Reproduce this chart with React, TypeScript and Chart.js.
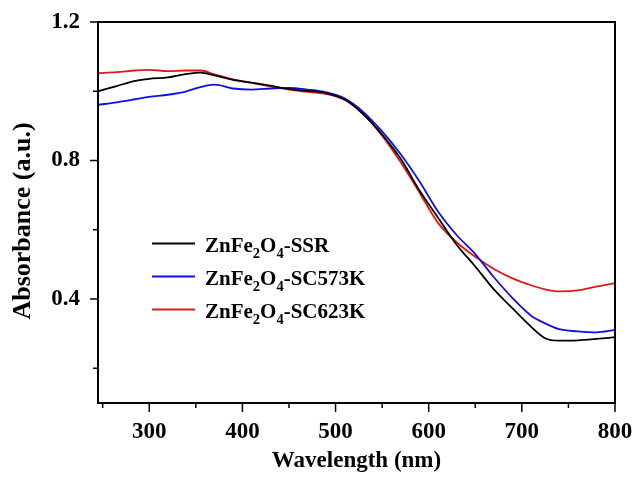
import React, { useEffect, useRef } from "react";
import { Chart, registerables } from "chart.js";

Chart.register(...registerables);

const wavelengths = [245, 265, 285, 300, 320, 340, 355, 370, 390, 410, 430, 450, 470, 490, 510, 530, 550, 570, 590, 610, 630, 650, 670, 690, 710, 725, 740, 760, 780, 800];
const ssr = [1.000, 1.015, 1.030, 1.036, 1.040, 1.050, 1.054, 1.046, 1.033, 1.025, 1.016, 1.007, 1.001, 0.995, 0.976, 0.933, 0.875, 0.805, 0.714, 0.635, 0.557, 0.494, 0.428, 0.373, 0.320, 0.287, 0.280, 0.281, 0.285, 0.290];
const sc573k = [0.961, 0.968, 0.977, 0.984, 0.990, 1.000, 1.012, 1.019, 1.008, 1.005, 1.008, 1.010, 1.005, 0.997, 0.979, 0.940, 0.884, 0.818, 0.740, 0.653, 0.585, 0.530, 0.463, 0.403, 0.352, 0.330, 0.313, 0.307, 0.304, 0.311];
const sc623k = [1.052, 1.055, 1.060, 1.062, 1.058, 1.060, 1.060, 1.049, 1.034, 1.024, 1.014, 1.005, 0.998, 0.992, 0.975, 0.935, 0.872, 0.795, 0.708, 0.620, 0.564, 0.522, 0.487, 0.460, 0.440, 0.428, 0.422, 0.425, 0.436, 0.446];

const seriesNames = ["ZnFe2O4-SSR", "ZnFe2O4-SC573K", "ZnFe2O4-SC623K"];
const seriesColors = ["#000000", "#1010e6", "#e01818"];

const xTicks = [250, 300, 350, 400, 450, 500, 550, 600, 650, 700, 750, 800];
const xLabeled = [300, 400, 500, 600, 700, 800];
const yTicks = [0.2, 0.4, 0.6, 0.8, 1.0, 1.2];
const yLabeled = [0.4, 0.8, 1.2];

const xTitle = "Wavelength (nm)";
const yTitle = "Absorbance (a.u.)";

const FONT = '"Liberation Serif", "Times New Roman", serif';

const isIn = (arr: number[], v: number) => arr.some((a) => Math.abs(a - v) < 1e-6);

function drawFormulaLabel(ctx: CanvasRenderingContext2D, text: string, x: number, baseline: number) {
  const dash = text.indexOf("-");
  const formula = dash >= 0 ? text.slice(0, dash) : text;
  const rest = dash >= 0 ? text.slice(dash) : "";
  let cx = x;
  const parts = formula.match(/[0-9]+|[^0-9]+/g) || [];
  ctx.textAlign = "left";
  ctx.textBaseline = "alphabetic";
  for (const p of parts) {
    const sub = /^[0-9]+$/.test(p);
    ctx.font = sub ? `bold 14.5px ${FONT}` : `bold 21px ${FONT}`;
    ctx.fillText(p, cx, baseline + (sub ? 6 : 0));
    cx += ctx.measureText(p).width;
  }
  ctx.font = `bold 21px ${FONT}`;
  ctx.fillText(rest, cx, baseline);
}

const decorPlugin = {
  id: "decor",
  afterDraw(chart: any) {
    const { ctx, chartArea: a, scales } = chart;
    const x = scales.x;
    const y = scales.y;
    ctx.save();
    ctx.strokeStyle = "#000";
    ctx.lineWidth = 2;
    ctx.strokeRect(a.left, a.top, a.right - a.left, a.bottom - a.top);

    ctx.lineWidth = 1.5;
    ctx.beginPath();
    xTicks.forEach((v) => {
      const p = x.getPixelForValue(v);
      const len = isIn(xLabeled, v) ? 9 : 5;
      ctx.moveTo(p, a.bottom);
      ctx.lineTo(p, a.bottom + len);
    });
    yTicks.forEach((v) => {
      const p = y.getPixelForValue(v);
      const len = isIn(yLabeled, v) ? 8 : 5;
      ctx.moveTo(a.left, p);
      ctx.lineTo(a.left - len, p);
    });
    ctx.stroke();

    // axis titles
    ctx.fillStyle = "#000";
    ctx.textAlign = "center";
    ctx.textBaseline = "middle";
    ctx.font = `bold 23px ${FONT}`;
    ctx.fillText(xTitle, (a.left + a.right) / 2, 461);
    ctx.save();
    ctx.translate(23.5, 221);
    ctx.rotate(-Math.PI / 2);
    ctx.font = `bold 26px ${FONT}`;
    ctx.fillText(yTitle, 0, 0);
    ctx.restore();

    // legend
    const rows = [243.5, 276.5, 309.5];
    chart.data.datasets.forEach((ds: any, i: number) => {
      const ry = rows[i];
      ctx.strokeStyle = ds.borderColor;
      ctx.lineWidth = 2;
      ctx.beginPath();
      ctx.moveTo(152, ry);
      ctx.lineTo(195, ry);
      ctx.stroke();
      ctx.fillStyle = "#000";
      drawFormulaLabel(ctx, ds.label, 205, ry + 8);
    });
    ctx.restore();
  },
};

export default function App() {
  const ref = useRef<HTMLCanvasElement | null>(null);

  useEffect(() => {
    if (!ref.current) return;
    const series = [ssr, sc573k, sc623k];
    const chart = new Chart(ref.current, {
      type: "line",
      data: {
        datasets: series.map((vals, i) => ({
          label: seriesNames[i],
          data: wavelengths.map((w, j) => ({ x: w, y: vals[j] })),
          borderColor: seriesColors[i],
          backgroundColor: seriesColors[i],
          borderWidth: 1.8,
          pointRadius: 0,
          cubicInterpolationMode: "monotone" as const,
          fill: false,
        })),
      },
      options: {
        responsive: false,
        animation: false,
        devicePixelRatio: 1,
        layout: { padding: { top: 22, right: 18, left: 0, bottom: 0 } },
        plugins: { legend: { display: false }, tooltip: { enabled: false } },
        scales: {
          x: {
            type: "linear",
            min: 245,
            max: 800,
            grid: { display: false, drawTicks: false },
            border: { display: false },
            afterBuildTicks: (axis: any) => {
              axis.ticks = xTicks.map((v) => ({ value: v }));
            },
            afterFit: (scale: any) => {
              scale.height = 74;
              scale.paddingLeft = 0;
              scale.paddingRight = 0;
            },
            ticks: {
              autoSkip: false,
              maxRotation: 0,
              padding: 15,
              color: "#000",
              font: { family: FONT, size: 23, weight: "bold" },
              callback: (v: any) => (isIn(xLabeled, Number(v)) ? String(v) : ""),
            },
          },
          y: {
            type: "linear",
            min: 0.1,
            max: 1.2,
            grid: { display: false, drawTicks: false },
            border: { display: false },
            afterBuildTicks: (axis: any) => {
              axis.ticks = yTicks.map((v) => ({ value: v }));
            },
            afterFit: (scale: any) => {
              scale.width = 98;
              scale.paddingTop = 0;
              scale.paddingBottom = 0;
            },
            ticks: {
              autoSkip: false,
              padding: 18,
              color: "#000",
              font: { family: FONT, size: 23, weight: "bold" },
              callback: (v: any) => (isIn(yLabeled, Number(v)) ? Number(v).toFixed(1) : ""),
            },
          },
        },
      },
      plugins: [decorPlugin],
    });
    return () => chart.destroy();
  }, []);

  return (
    <div style={{ position: "fixed", left: 0, top: 0, width: 633, height: 477, background: "#fff" }}>
      <canvas ref={ref} width={633} height={477} style={{ display: "block" }} />
    </div>
  );
}
